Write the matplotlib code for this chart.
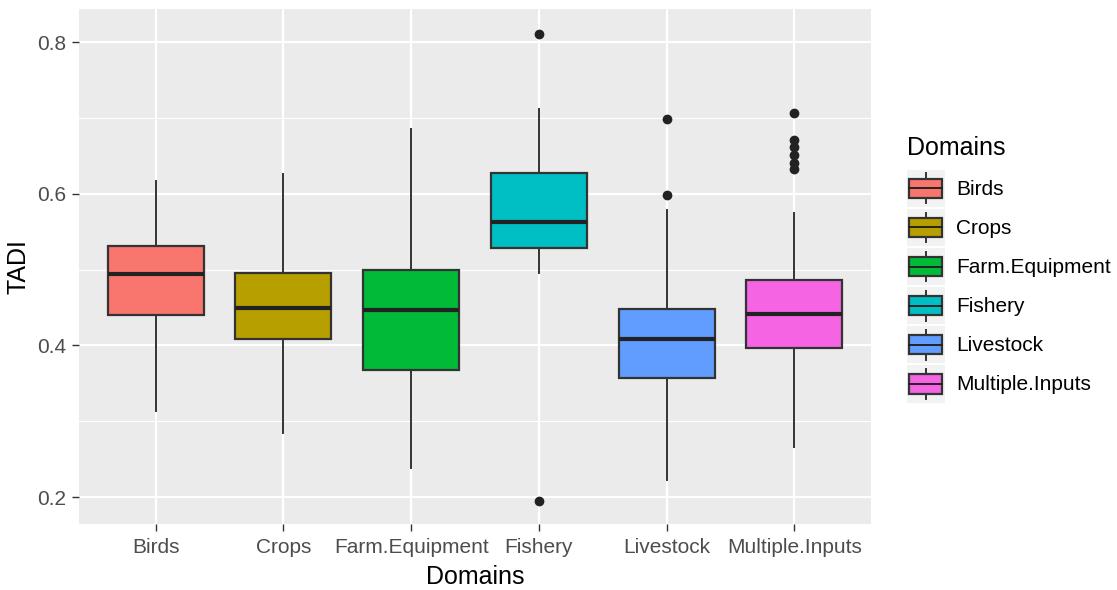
import matplotlib
matplotlib.use("Agg")
import matplotlib.pyplot as plt
from matplotlib.legend_handler import HandlerBase
from matplotlib.patches import Rectangle
from matplotlib.lines import Line2D
from matplotlib.ticker import MultipleLocator

plt.rcParams['font.family'] = ['Liberation Sans', 'DejaVu Sans']

domains = ['Birds', 'Crops', 'Farm.Equipment', 'Fishery', 'Livestock', 'Multiple.Inputs']
colors = ['#F8766D', '#B79F00', '#00BA38', '#00BFC4', '#619CFF', '#F564E3']

# box statistics
whislo = [0.313, 0.284, 0.239, 0.495, 0.222, 0.266]
q1 = [0.440, 0.408, 0.368, 0.528, 0.357, 0.397]
med = [0.494, 0.450, 0.447, 0.563, 0.408, 0.441]
q3 = [0.531, 0.495, 0.500, 0.628, 0.448, 0.486]
whishi = [0.617, 0.626, 0.686, 0.712, 0.578, 0.574]
fliers = [[], [], [], [0.811, 0.195], [0.699, 0.599],
          [0.706, 0.671, 0.661, 0.651, 0.641, 0.633]]

stats = []
for i, d in enumerate(domains):
    stats.append(dict(label=d, whislo=whislo[i], q1=q1[i], med=med[i],
                      q3=q3[i], whishi=whishi[i], fliers=fliers[i]))

fig = plt.figure(figsize=(11.17, 5.9), dpi=100)
ax = fig.add_axes([79 / 1117, 66 / 590, 792 / 1117, 515 / 590])
ax.set_facecolor('#EBEBEB')

ax.yaxis.set_major_locator(MultipleLocator(0.2))
ax.yaxis.set_minor_locator(MultipleLocator(0.1))
ax.grid(which='major', color='white', linewidth=1.6, zorder=0)
ax.grid(which='minor', axis='y', color='white', linewidth=0.8, zorder=0)
ax.set_axisbelow(True)

bp = ax.bxp(stats, positions=range(1, 7), widths=0.75, patch_artist=True,
            showcaps=False,
            boxprops=dict(edgecolor='#333333', linewidth=1.6),
            whiskerprops=dict(color='#333333', linewidth=1.4),
            medianprops=dict(color='#222222', linewidth=3.0),
            flierprops=dict(marker='o', markerfacecolor='#222222',
                            markeredgecolor='#222222', markersize=6))
for patch, c in zip(bp['boxes'], colors):
    patch.set_facecolor(c)

ax.set_xlim(0.4, 6.6)
ax.set_ylim(0.1646, 0.8436)
ax.set_xticks(range(1, 7))
ax.set_xticklabels(domains)
ax.tick_params(axis='both', which='major', labelsize=15, labelcolor='#4D4D4D',
               color='#333333', length=5, width=1, pad=4)
ax.tick_params(axis='x', which='major', pad=5)
ax.tick_params(axis='y', which='minor', length=0)
for s in ax.spines.values():
    s.set_visible(False)

ax.set_xlabel('Domains', fontsize=18, labelpad=6)
ax.set_ylabel('TADI', fontsize=18, labelpad=5)


class BoxKey(HandlerBase):
    def create_artists(self, legend, orig_handle, xdescent, ydescent,
                       width, height, fontsize, trans):
        x0, y0 = -xdescent, -ydescent
        bg = Rectangle((x0, y0), width, height, facecolor='#F2F2F2',
                       edgecolor='none', transform=trans)
        cx = x0 + width / 2
        wl = Line2D([cx, cx], [y0 + height * 0.1, y0 + height * 0.9],
                    color='#333333', linewidth=1.4, transform=trans)
        box = Rectangle((x0 + width * 0.06, y0 + height * 0.24), width * 0.88,
                        height * 0.52, facecolor=orig_handle.get_facecolor(),
                        edgecolor='#333333', linewidth=1.6, transform=trans)
        md = Line2D([x0 + width * 0.06, x0 + width * 0.94],
                    [y0 + height * 0.5, y0 + height * 0.5],
                    color='#222222', linewidth=1.4, transform=trans)
        return [bg, wl, box, md]


handles = [Rectangle((0, 0), 1, 1, facecolor=c) for c in colors]
leg = fig.legend(handles, domains, loc='upper left',
                 bbox_to_anchor=(907 / 1117, 1 - 136 / 590),
                 frameon=False, fontsize=15, title='Domains',
                 title_fontsize=18, alignment='left',
                 handler_map={Rectangle: BoxKey()},
                 handlelength=1.8, handleheight=2.36, handletextpad=0.55,
                 labelspacing=0.1, borderpad=0, borderaxespad=0)
leg._legend_box.sep = 7

fig.savefig('out.png', dpi=100)
